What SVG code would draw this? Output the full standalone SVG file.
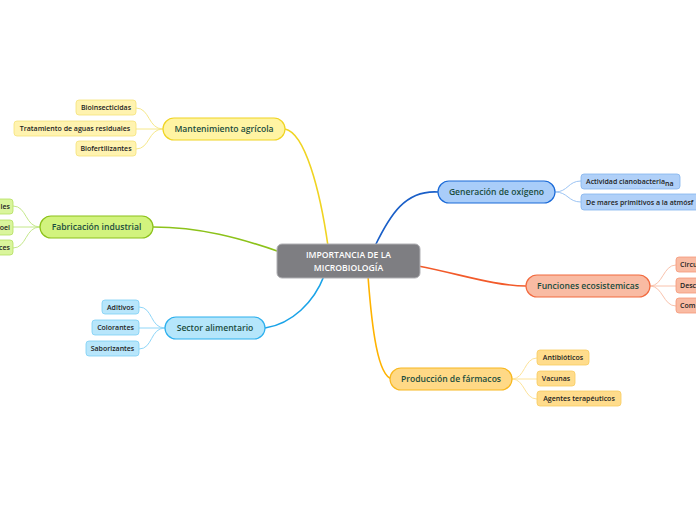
<svg xmlns="http://www.w3.org/2000/svg" width="696" height="520" viewBox="0 0 696 520">
<style>
text{font-family:"Open Sans","Noto Sans","Liberation Sans",sans-serif;font-weight:600;text-anchor:middle;dominant-baseline:central}
.main{font-size:8.6px;fill:#1b4d3e}
.sub{font-size:7px;fill:#222}
.c{fill:none;stroke-width:1.6}
.s{fill:none;stroke-width:1}
</style>
<rect width="696" height="520" fill="#fff"/>
<g id="connectors">
<path class="c" stroke="#f0d422" d="M285,129 C305,133 320,190 328,246"/>
<path class="c" stroke="#8cc21a" d="M153,227 C200,227 240,238 280,252"/>
<path class="c" stroke="#1aa3e8" d="M265,328 C292,324 314,302 324,276"/>
<path class="c" stroke="#1a5fc8" d="M438,192 C405,190 390,215 375,246"/>
<path class="c" stroke="#f25a2a" d="M418,266 C460,274 495,286 526,286"/>
<path class="c" stroke="#ffb300" d="M368,276 C372,330 378,376 392,379"/>
<g stroke="#f6e88a">
<path class="s" d="M163,129 C148,129 150,108 136,108"/>
<path class="s" d="M163,129 L136,129"/>
<path class="s" d="M163,129 C148,129 150,149 136,149"/>
</g>
<g stroke="#c4e88a">
<path class="s" d="M40,227 C25,227 27,206 13,206"/>
<path class="s" d="M40,227 L13,227"/>
<path class="s" d="M40,227 C25,227 27,248 13,248"/>
</g>
<g stroke="#8fd6f8">
<path class="s" d="M165,328 C150,328 153,307 139,307"/>
<path class="s" d="M165,328 L139,328"/>
<path class="s" d="M165,328 C150,328 153,349 139,349"/>
</g>
<g stroke="#9cc4f4">
<path class="s" d="M555,192 C568,192 568,181 581,181"/>
<path class="s" d="M555,192 C568,192 568,202 581,202"/>
</g>
<g stroke="#f9c2ac">
<path class="s" d="M650,286 C663,286 663,265 676,265"/>
<path class="s" d="M650,286 L676,286"/>
<path class="s" d="M650,286 C663,286 663,306 676,306"/>
</g>
<g stroke="#fde39a">
<path class="s" d="M512,379 C525,379 524,358 537,358"/>
<path class="s" d="M512,379 L537,379"/>
<path class="s" d="M512,379 C525,379 524,399 537,399"/>
</g>
</g>
<g id="center">
<rect x="277" y="244" width="143" height="34" rx="5" fill="#7e7e82" stroke="#b0b0b4"/>
<text x="348.5" y="255" font-size="8.6" style="fill:#fff">IMPORTANCIA DE LA</text>
<text x="348.5" y="268" font-size="8.6" style="fill:#fff">MICROBIOLOGÍA</text>
</g>
<g id="mantenimiento">
<rect x="163" y="118" width="122" height="22" rx="11" fill="#fff4a3" stroke="#f0d422" stroke-width="1.2"/>
<text class="main" x="224" y="129">Mantenimiento agrícola</text>
</g>
<g id="bioinsecticidas"><rect x="76" y="100" width="60" height="15" rx="3" fill="#fff3b0" stroke="#f5e27a" stroke-width="0.8"/><text class="sub" x="106" y="107.5">Bioinsecticidas</text></g>
<g id="tratamiento"><rect x="14" y="121" width="122" height="15" rx="3" fill="#fff3b0" stroke="#f5e27a" stroke-width="0.8"/><text class="sub" x="75" y="128.5">Tratamiento de aguas residuales</text></g>
<g id="biofertilizantes"><rect x="76" y="141" width="60" height="15" rx="3" fill="#fff3b0" stroke="#f5e27a" stroke-width="0.8"/><text class="sub" x="106" y="148.5">Biofertilizantes</text></g>
<g id="fabricacion">
<rect x="40" y="216" width="113" height="22" rx="11" fill="#d2f37e" stroke="#8cc21a" stroke-width="1.2"/>
<text class="main" x="96.5" y="227">Fabricación industrial</text>
</g>
<g id="fab1"><rect x="-40" y="199" width="53" height="15" rx="3" fill="#daf59c" stroke="#b4e060" stroke-width="0.8"/><text class="sub" x="10" y="206.5" style="text-anchor:end">les</text></g>
<g id="fab2"><rect x="-40" y="220" width="53" height="15" rx="3" fill="#daf59c" stroke="#b4e060" stroke-width="0.8"/><text class="sub" x="10" y="227.5" style="text-anchor:end">oel</text></g>
<g id="fab3"><rect x="-40" y="240" width="53" height="15" rx="3" fill="#daf59c" stroke="#b4e060" stroke-width="0.8"/><text class="sub" x="10" y="247.5" style="text-anchor:end">ces</text></g>
<g id="sector">
<rect x="165" y="317" width="100" height="22" rx="11" fill="#b5e6fb" stroke="#2db0ee" stroke-width="1.2"/>
<text class="main" x="215" y="328">Sector alimentario</text>
</g>
<g id="aditivos"><rect x="102" y="300" width="37" height="14" rx="3" fill="#b8e6fb" stroke="#7ccff5" stroke-width="0.8"/><text class="sub" x="120.5" y="307">Aditivos</text></g>
<g id="colorantes"><rect x="92" y="320" width="47" height="15" rx="3" fill="#b8e6fb" stroke="#7ccff5" stroke-width="0.8"/><text class="sub" x="115.5" y="327.5">Colorantes</text></g>
<g id="saborizantes"><rect x="86" y="341" width="53" height="15" rx="3" fill="#b8e6fb" stroke="#7ccff5" stroke-width="0.8"/><text class="sub" x="112.5" y="348.5">Saborizantes</text></g>
<g id="generacion">
<rect x="438" y="181" width="117" height="22" rx="11" fill="#a9cdf9" stroke="#1a6ad8" stroke-width="1.2"/>
<text class="main" x="496.5" y="192">Generación de oxígeno</text>
</g>
<g id="actividad"><rect x="581" y="174" width="99" height="15" rx="3" fill="#b0d0f8" stroke="#84b4ee" stroke-width="0.8"/><text class="sub" x="586" y="181" style="text-anchor:start">Actividad cianobacteria<tspan dy="1.5">na</tspan></text></g>
<g id="mares"><rect x="581" y="194" width="130" height="16" rx="3" fill="#b0d0f8" stroke="#84b4ee" stroke-width="0.8"/><text class="sub" x="586" y="202" style="text-anchor:start">De mares primitivos a la atmósf</text></g>
<g id="funciones">
<rect x="526" y="275" width="124" height="22" rx="11" fill="#f9bba3" stroke="#f26a3f" stroke-width="1.2"/>
<text class="main" x="588" y="286">Funciones ecosistemicas</text>
</g>
<g id="fun1"><rect x="676" y="257" width="60" height="15" rx="3" fill="#f9bba3" stroke="#f5987a" stroke-width="0.8"/><text class="sub" x="680" y="264.5" style="text-anchor:start">Circu</text></g>
<g id="fun2"><rect x="676" y="278" width="60" height="15" rx="3" fill="#f9bba3" stroke="#f5987a" stroke-width="0.8"/><text class="sub" x="680" y="285.5" style="text-anchor:start">Desc</text></g>
<g id="fun3"><rect x="676" y="298" width="60" height="15" rx="3" fill="#f9bba3" stroke="#f5987a" stroke-width="0.8"/><text class="sub" x="680" y="305.5" style="text-anchor:start">Com</text></g>
<g id="produccion">
<rect x="390" y="368" width="122" height="22" rx="11" fill="#ffd986" stroke="#f8b820" stroke-width="1.2"/>
<text class="main" x="451" y="379">Producción de fármacos</text>
</g>
<g id="antibioticos"><rect x="537" y="350" width="52" height="15" rx="3" fill="#ffdc8c" stroke="#f8cc60" stroke-width="0.8"/><text class="sub" x="563" y="357.5">Antibióticos</text></g>
<g id="vacunas"><rect x="537" y="371" width="38" height="15" rx="3" fill="#ffdc8c" stroke="#f8cc60" stroke-width="0.8"/><text class="sub" x="556" y="378.5">Vacunas</text></g>
<g id="agentes"><rect x="537" y="391" width="84" height="15" rx="3" fill="#ffdc8c" stroke="#f8cc60" stroke-width="0.8"/><text class="sub" x="579" y="398.5">Agentes terapéuticos</text></g>
</svg>
